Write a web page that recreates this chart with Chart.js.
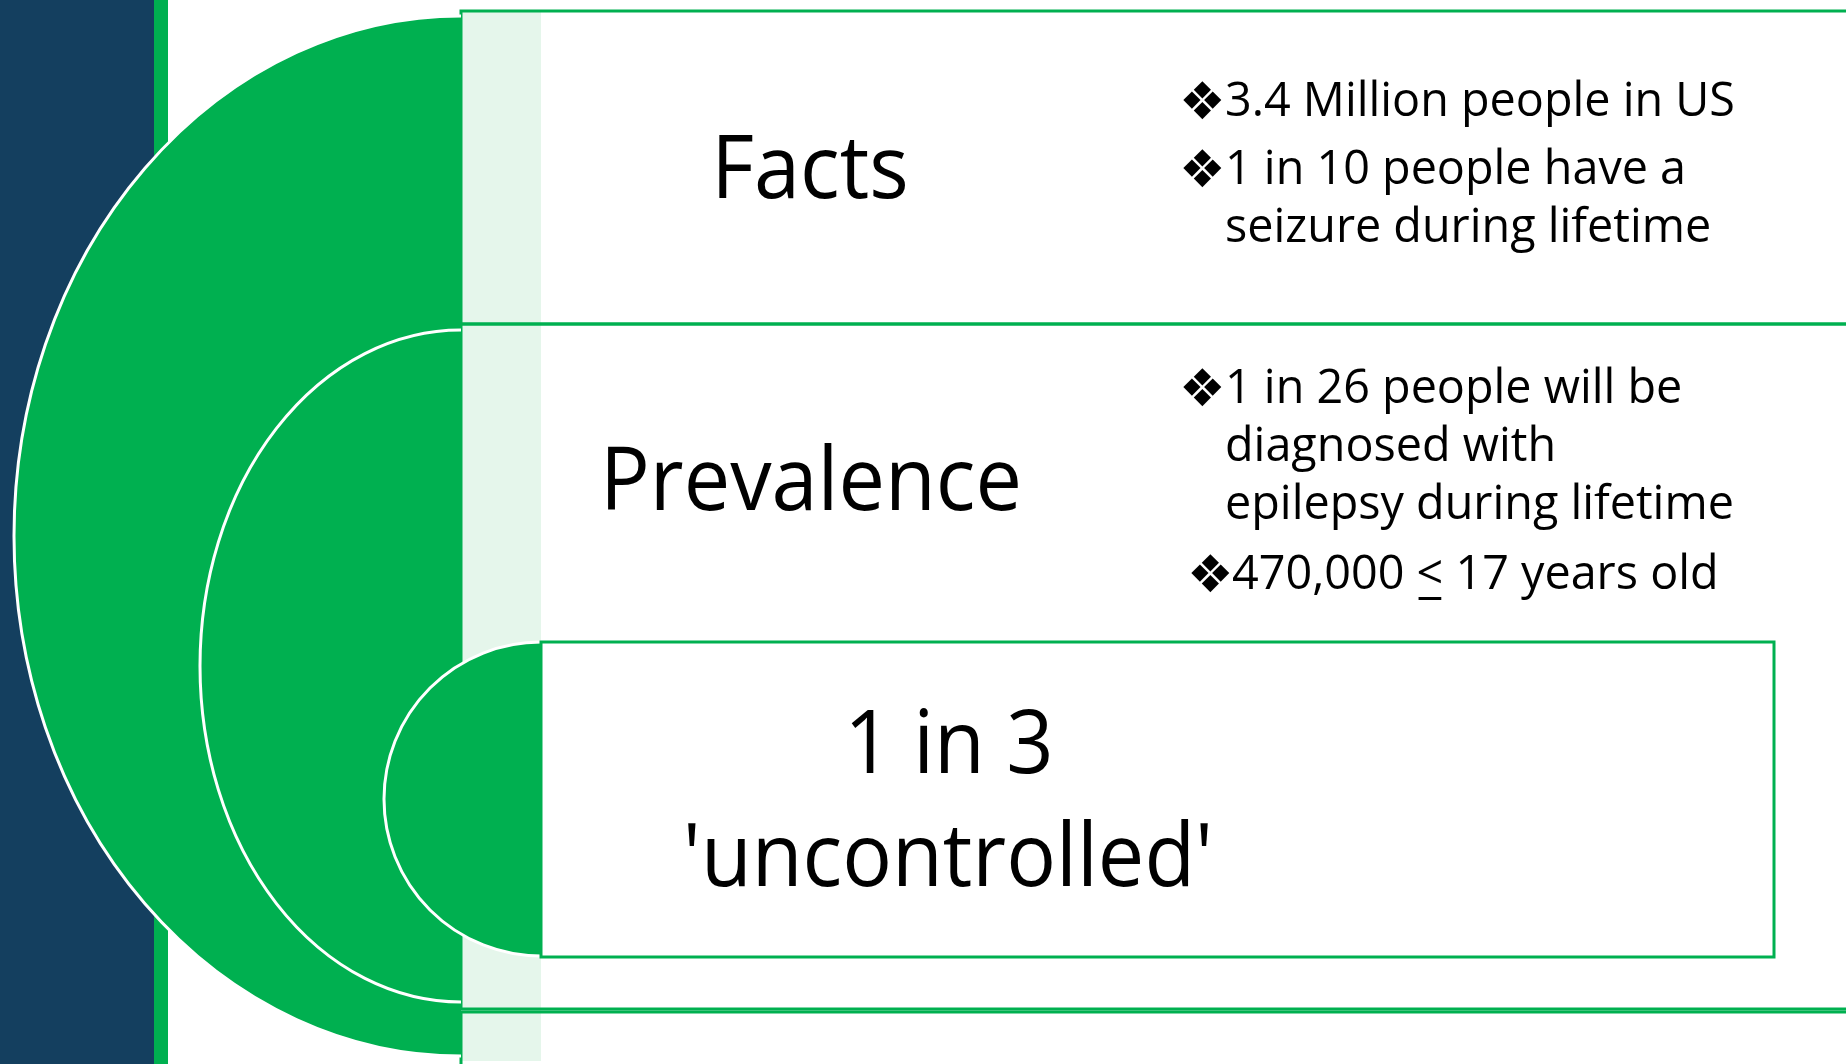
<!DOCTYPE html>
<html>
<head>
<meta charset="utf-8">
<script src="https://cdn.jsdelivr.net/npm/chart.js@4/dist/chart.umd.min.js"></script>
<style>
html, body { margin: 0; padding: 0; background: #ffffff; overflow: hidden; }
#wrap { position: relative; width: 1846px; height: 1064px; }
</style>
</head>
<body>
<div id="wrap"><canvas id="targetChart"></canvas></div>
<script>
"use strict";
// text of the diagram
var stageLabels = ["Facts", "Prevalence", "1 in 3", "'uncontrolled'"];
var factBullets = [["3.4 Million people in US"], ["1 in 10 people have a", "seizure during lifetime"]];
var prevalenceBullets = [["1 in 26 people will be", "diagnosed with", "epilepsy during lifetime"], ["470,000 < 17 years old"]];

var GREEN = "#00B050";
var NAVY = "#143F5F";
var BAND = "#E5F6EB";
var FONT = "'Open Sans', 'Noto Sans', sans-serif";

// squeeze text horizontally so it matches the narrow office font
function squeezeText(ctx, text, x, y, scaleX, align) {
    var w = ctx.measureText(text).width * scaleX;
    var left = x;
    if (align === "center") left = x - w / 2;
    ctx.save();
    ctx.translate(left, y);
    ctx.scale(scaleX, 1);
    ctx.textAlign = "left";
    ctx.fillText(text, 0, 0);
    ctx.restore();
    return {left: left, width: w};
}

var diagramPlugin = {
    id: "diagram",
    beforeDatasetsDraw: function (chart) {
        var ctx = chart.ctx;
        var sx = chart.scales.x, sy = chart.scales.y;
        var X = function (v) { return sx.getPixelForValue(v); };
        var Y = function (v) { return sy.getPixelForValue(v); };

        ctx.save();
        // left bars
        ctx.fillStyle = NAVY;
        ctx.fillRect(X(0), Y(0), X(154) - X(0), Y(1064) - Y(0));
        ctx.fillStyle = GREEN;
        ctx.fillRect(X(154), Y(0), X(168) - X(154), Y(1064) - Y(0));

        // outer boxes
        ctx.fillStyle = "#ffffff";
        ctx.fillRect(X(461), Y(11), X(1860) - X(461), Y(1064) - Y(11));
        ctx.fillStyle = BAND;
        ctx.fillRect(X(462), Y(12), X(541) - X(462), Y(1061) - Y(12));
        ctx.strokeStyle = GREEN;
        ctx.lineWidth = 3;
        ctx.strokeRect(X(461), Y(11), X(1860) - X(461), Y(324) - Y(11));
        ctx.strokeRect(X(461), Y(324), X(1860) - X(461), Y(1009) - Y(324));
        ctx.strokeRect(X(461), Y(1012), X(1860) - X(461), Y(1080) - Y(1012));

        // half ellipses
        var halves = [
            {cx: 461, cy: 536, rx: 447, ry: 520},
            {cx: 461, cy: 666, rx: 261, ry: 336},
            {cx: 541, cy: 799, rx: 157, ry: 157}
        ];
        halves.forEach(function (h) {
            ctx.beginPath();
            ctx.ellipse(X(h.cx), Y(h.cy), X(h.cx) - X(h.cx - h.rx), Y(h.cy + h.ry) - Y(h.cy), 0, Math.PI / 2, Math.PI * 1.5);
            ctx.closePath();
            ctx.fillStyle = GREEN;
            ctx.fill();
            ctx.beginPath();
            ctx.ellipse(X(h.cx), Y(h.cy), X(h.cx) - X(h.cx - h.rx), Y(h.cy + h.ry) - Y(h.cy), 0, Math.PI / 2, Math.PI * 1.5);
            ctx.strokeStyle = "#ffffff";
            ctx.lineWidth = 3;
            ctx.stroke();
        });

        // inner box
        ctx.fillStyle = "#ffffff";
        ctx.fillRect(X(541), Y(642), X(1774) - X(541), Y(957) - Y(642));
        ctx.strokeStyle = GREEN;
        ctx.lineWidth = 3;
        ctx.strokeRect(X(541), Y(642), X(1774) - X(541), Y(957) - Y(642));

        // big labels
        ctx.fillStyle = "#000000";
        ctx.textBaseline = "alphabetic";
        ctx.font = "87px " + FONT;
        var bigScale = (1022 - 600) / ctx.measureText(stageLabels[1]).width;
        squeezeText(ctx, stageLabels[0], X(810), Y(198), bigScale, "center");
        squeezeText(ctx, stageLabels[1], X(811), Y(510), bigScale, "center");
        squeezeText(ctx, stageLabels[2], X(949), Y(773), bigScale, "center");
        squeezeText(ctx, stageLabels[3], X(948), Y(886), bigScale, "center");

        // bullets
        ctx.font = "47px " + FONT;
        var smallScale = 510 / ctx.measureText(factBullets[0][0]).width;
        function drawBullets(groups, starts, textX, bulletX) {
            groups.forEach(function (lines, g) {
                var base = starts[g];
                ctx.font = "52px 'DejaVu Sans'";
                ctx.fillText("\u2756", X(bulletX[g]), Y(base + 3));
                ctx.font = "47px " + FONT;
                lines.forEach(function (line, i) {
                    var yy = base + i * 58;
                    var parts = line.split("<");
                    if (parts.length > 1) {
                        var a = squeezeText(ctx, parts[0], X(textX[g]), Y(yy), smallScale, "left");
                        var lt = squeezeText(ctx, "<", a.left + a.width, Y(yy), smallScale, "left");
                        ctx.fillRect(lt.left + 2, Y(yy + 8), lt.width - 4, 3);
                        squeezeText(ctx, parts[1], lt.left + lt.width, Y(yy), smallScale, "left");
                    } else {
                        squeezeText(ctx, line, X(textX[g]), Y(yy), smallScale, "left");
                    }
                });
            });
        }
        drawBullets(factBullets, [116, 184], [1225, 1225], [1179, 1179]);
        drawBullets(prevalenceBullets, [403, 589], [1225, 1232], [1179, 1187]);
        ctx.restore();
    }
};

var ctxChart = document.getElementById("targetChart");
var diagram = new Chart(ctxChart, {
    type: "scatter",
    data: {
        labels: stageLabels,
        datasets: [{
            label: "stages",
            data: [],
            pointRadius: 0
        }]
    },
    options: {
        responsive: true,
        maintainAspectRatio: false,
        animation: false,
        layout: { padding: 0 },
        scales: {
            x: { type: "linear", min: 0, max: 1846, display: false },
            y: { type: "linear", min: 0, max: 1064, reverse: true, display: false }
        },
        plugins: {
            legend: { display: false },
            tooltip: { enabled: false }
        }
    },
    plugins: [diagramPlugin]
});
</script>
</body>
</html>
